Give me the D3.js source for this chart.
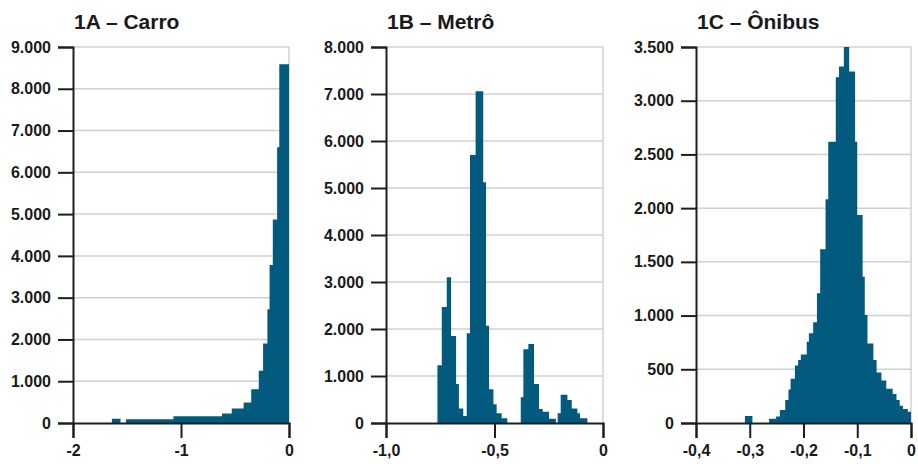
<!DOCTYPE html>
<html lang="pt-BR">
<head>
<meta charset="utf-8">
<script src="https://cdn.jsdelivr.net/npm/d3@7/dist/d3.min.js"></script>
<style>
  html, body { margin: 0; padding: 0; background: #ffffff; }
  svg { display: block; }
  text { font-family: "Liberation Sans", Arial, sans-serif; font-weight: bold; fill: #1a1a1a; }
</style>
</head>
<body>
<svg id="chart" width="918" height="464"></svg>
<script>
// Histogram bins: edges (variation) and frequencies for each mode of transport
const carroEdges  = [-1.64, -1.56, -1.51, -1.07, -0.62, -0.53, -0.42, -0.35, -0.28, -0.24, -0.20, -0.18, -0.15, -0.11, -0.09, 0];
const carroCounts = [100, 0, 90, 160, 230, 350, 490, 810, 1250, 1900, 2720, 3780, 4870, 6600, 8590];

const metroEdges  = [-0.763, -0.743, -0.720, -0.700, -0.677, -0.664, -0.644, -0.628,
                     -0.613, -0.587, -0.552, -0.539, -0.525, -0.505, -0.490, -0.467, -0.441,
                     -0.379, -0.367, -0.344, -0.318, -0.295, -0.278, -0.249, -0.217,
                     -0.209, -0.195, -0.164, -0.144, -0.118, -0.106, -0.072];
const metroCounts = [1230, 2470, 3100, 1850, 830, 310, 150,
                     1910, 5700, 7060, 5120, 2070, 720, 400, 210, 100,
                     0,
                     550, 1570, 1680, 830, 300, 240, 90,
                     0,
                     210, 600, 490, 310, 210, 100];

const onibusEdges  = [-0.309, -0.295, -0.264, -0.251, -0.244, -0.234, -0.228, -0.224, -0.216, -0.210,
                      -0.205, -0.194, -0.190, -0.182, -0.175, -0.169, -0.159, -0.154, -0.140, -0.134,
                      -0.125, -0.115, -0.104, -0.100, -0.090, -0.086, -0.081, -0.070, -0.064, -0.055,
                      -0.046, -0.034, -0.027, -0.021, -0.015, -0.006, 0];
const onibusCounts = [65, 0, 40, 60, 121, 214, 313, 413, 535, 587,
                      637, 757, 835, 938, 1208, 1617, 2083, 2619, 3219, 3318,
                      3500, 3271, 2619, 1937, 1362, 1006, 740, 587, 470, 395,
                      318, 270, 214, 160, 130, 105];

const titles = ["1A – Carro", "1B – Metrô", "1C – Ônibus"];

const carroYTicks  = [0, 1000, 2000, 3000, 4000, 5000, 6000, 7000, 8000, 9000];
const metroYTicks  = [0, 1000, 2000, 3000, 4000, 5000, 6000, 7000, 8000];
const onibusYTicks = [0, 500, 1000, 1500, 2000, 2500, 3000, 3500];

const carroXTicks  = [-2, -1, 0];
const carroXLabels = ["-2", "-1", "0"];
const metroXTicks  = [-1, -0.5, 0];
const metroXLabels = ["-1,0", "-0,5", "0"];
const onibusXTicks  = [-0.4, -0.3, -0.2, -0.1, 0];
const onibusXLabels = ["-0,4", "-0,3", "-0,2", "-0,1", "0"];

// Brazilian number format for the frequency axis (1.000, 2.000 ...)
const ptBR = d3.formatLocale({ decimal: ",", thousands: ".", grouping: [3], currency: ["R$", ""], minus: "-" });
const fmtCount = ptBR.format(",d");

const BAR = "#035a7f";
const GRID = "#d0d0d0";
const AXIS = "#1e1e1e";

const panels = [
  { title: titles[0], edges: carroEdges,  counts: carroCounts,  yTicks: carroYTicks,
    xTicks: carroXTicks,  xLabels: carroXLabels,  left: 73,  right: 289 },
  { title: titles[1], edges: metroEdges,  counts: metroCounts,  yTicks: metroYTicks,
    xTicks: metroXTicks,  xLabels: metroXLabels,  left: 386, right: 603 },
  { title: titles[2], edges: onibusEdges, counts: onibusCounts, yTicks: onibusYTicks,
    xTicks: onibusXTicks, xLabels: onibusXLabels, left: 696, right: 911 }
];

const plotTop = 47, plotBottom = 423;
const svg = d3.select("#chart");

panels.forEach(p => {
  const x = d3.scaleLinear().domain([p.xTicks[0], p.xTicks[p.xTicks.length - 1]]).range([p.left, p.right]);
  const y = d3.scaleLinear().domain([0, p.yTicks[p.yTicks.length - 1]]).range([plotBottom, plotTop]);
  const g = svg.append("g");

  // horizontal grid lines and right frame line
  g.append("g").selectAll("line").data(p.yTicks.filter(v => v > 0)).join("line")
    .attr("x1", p.left).attr("x2", p.right)
    .attr("y1", d => y(d)).attr("y2", d => y(d))
    .attr("stroke", GRID).attr("stroke-width", 1.5);
  g.append("line")
    .attr("x1", p.right).attr("x2", p.right).attr("y1", plotTop).attr("y2", plotBottom)
    .attr("stroke", GRID).attr("stroke-width", 1.5);

  // histogram bars as one stepped silhouette, so neighbouring bins join without seams
  const steps = p.counts.map((c, i) => ({ x: p.edges[i], n: c }));
  steps.push({ x: p.edges[p.edges.length - 1], n: 0 });
  const area = d3.area()
    .x(d => x(d.x))
    .y0(y(0))
    .y1(d => y(d.n))
    .curve(d3.curveStepAfter);
  g.append("path")
    .datum(steps)
    .attr("d", area)
    .attr("fill", BAR);

  // y axis
  const yAxis = d3.axisLeft(y).tickValues(p.yTicks).tickFormat(fmtCount).tickSize(15).tickPadding(7);
  const ya = g.append("g").attr("transform", `translate(${p.left},0)`).call(yAxis);
  // x axis
  const xAxis = d3.axisBottom(x).tickValues(p.xTicks).tickFormat((d, i) => p.xLabels[i]).tickSize(15).tickPadding(7);
  const xa = g.append("g").attr("transform", `translate(0,${plotBottom})`).call(xAxis);

  [ya, xa].forEach(a => {
    a.select(".domain").attr("stroke", AXIS).attr("stroke-width", 2);
    a.selectAll(".tick line").attr("stroke", AXIS).attr("stroke-width", 2);
    a.selectAll(".tick text").attr("font-size", 16).attr("font-family", "'Liberation Sans', Arial, sans-serif")
      .attr("font-weight", "bold").attr("fill", "#1a1a1a");
  });

  // panel title
  g.append("text")
    .attr("x", p.left + 1).attr("y", 29)
    .attr("font-size", 21)
    .text(p.title);
});
</script>
</body>
</html>
